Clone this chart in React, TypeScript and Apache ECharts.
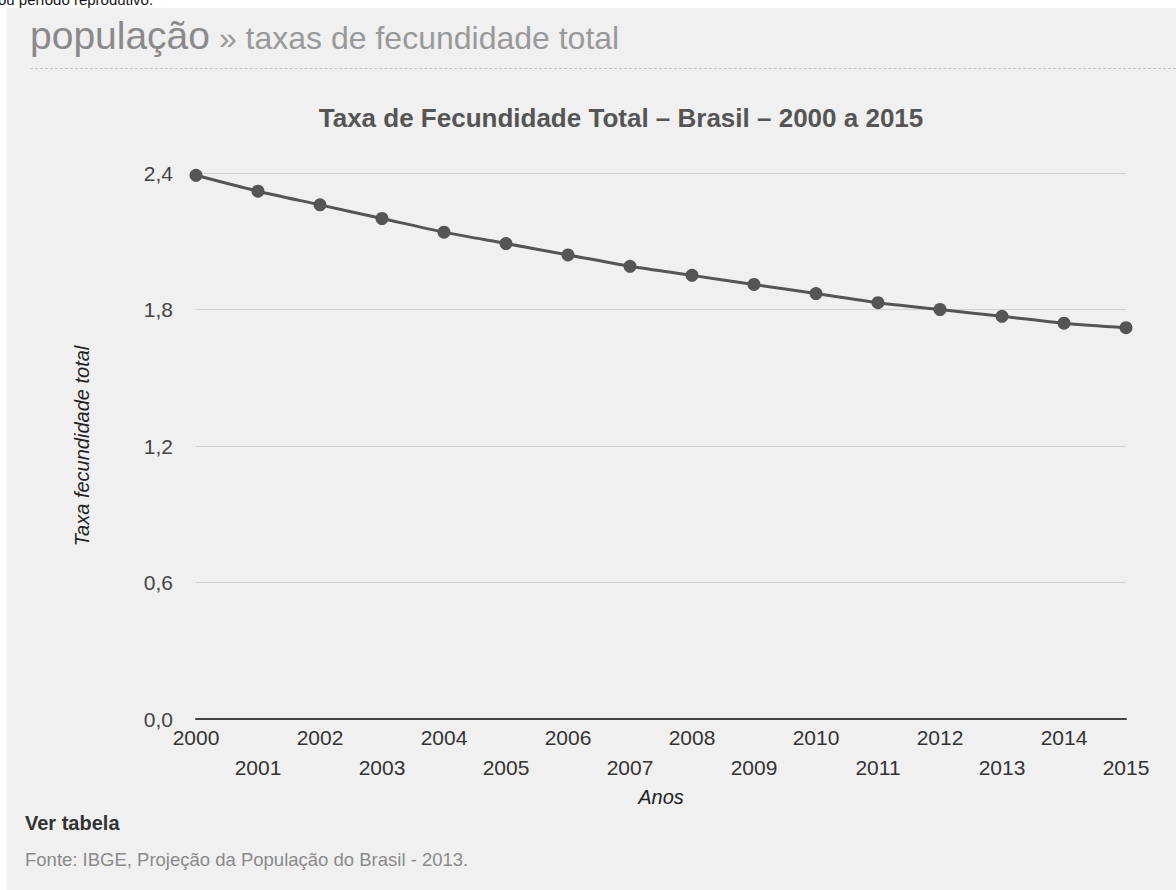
import React, { useEffect, useRef } from "react";
import * as echarts from "echarts";

const years: string[] = [
  "2000", "2001", "2002", "2003", "2004", "2005", "2006", "2007",
  "2008", "2009", "2010", "2011", "2012", "2013", "2014", "2015",
];
const tft: number[] = [
  2.39, 2.32, 2.26, 2.2, 2.14, 2.09, 2.04, 1.99,
  1.95, 1.91, 1.87, 1.83, 1.8, 1.77, 1.74, 1.72,
];
const yMin = 0;
const yMax = 2.4;
const yStep = 0.6;

const chartTitle = "Taxa de Fecundidade Total – Brasil – 2000 a 2015";
const yName = "Taxa fecundidade total";
const xName = "Anos";

const FONT = "'Liberation Sans', Arial, sans-serif";

export default function App() {
  const ref = useRef<HTMLDivElement>(null);

  useEffect(() => {
    if (!ref.current) return;
    const chart = echarts.init(ref.current, null, { renderer: "svg" });
    chart.setOption({
      animation: false,
      backgroundColor: "transparent",
      textStyle: { fontFamily: FONT },
      graphic: [
        {
          type: "text",
          x: 621,
          y: 118,
          style: {
            text: chartTitle,
            fontFamily: FONT,
            fontSize: 26,
            fontWeight: "bold",
            fill: "#555",
            textAlign: "center",
            textVerticalAlign: "middle",
          },
        },
      ],
      grid: { left: 196, right: 50, top: 173, bottom: 171, containLabel: false },
      xAxis: {
        type: "category",
        data: years,
        boundaryGap: false,
        name: xName,
        nameLocation: "middle",
        nameGap: 46,
        nameTextStyle: {
          fontFamily: FONT,
          fontSize: 20,
          fontStyle: "italic",
          color: "#222",
        },
        axisLine: { show: true, lineStyle: { color: "#444", width: 2 } },
        axisTick: { show: false },
        splitLine: { show: false },
        axisLabel: {
          interval: 0,
          hideOverlap: false,
          margin: 3,
          fontFamily: FONT,
          fontSize: 21,
          lineHeight: 30,
          color: "#333",
          formatter: (v: string, i: number) => (i % 2 === 1 ? "\n" + v : v),
        },
      },
      yAxis: {
        type: "value",
        min: yMin,
        max: yMax,
        interval: yStep,
        name: yName,
        nameLocation: "middle",
        nameGap: 104,
        nameRotate: 90,
        nameTextStyle: {
          fontFamily: FONT,
          fontSize: 20,
          fontStyle: "italic",
          color: "#222",
        },
        axisLine: { show: false },
        axisTick: { show: false },
        splitLine: { show: true, lineStyle: { color: "#d2d2d2", width: 1 } },
        axisLabel: {
          margin: 23,
          fontFamily: FONT,
          fontSize: 21,
          color: "#444",
          formatter: (v: number) => v.toFixed(1).replace(".", ","),
        },
      },
      series: [
        {
          type: "line",
          data: tft,
          smooth: 0.3,
          symbol: "circle",
          symbolSize: 13,
          showSymbol: true,
          lineStyle: { color: "#555", width: 3 },
          itemStyle: { color: "#555" },
        },
      ],
    });
    return () => chart.dispose();
  }, []);

  return (
    <div
      style={{
        position: "fixed",
        left: 0,
        top: 0,
        width: 1176,
        height: 890,
        overflow: "hidden",
        background: "#ffffff",
        fontFamily: FONT,
      }}
    >
      <div
        style={{
          position: "absolute",
          left: -2,
          top: -8,
          fontSize: 15,
          lineHeight: "15px",
          color: "#111",
          whiteSpace: "nowrap",
        }}
      >
        ou período reprodutivo.
      </div>
      <div
        style={{
          position: "absolute",
          left: 7,
          top: 8,
          right: 0,
          bottom: 0,
          background: "#f0f0f0",
        }}
      />
      <div
        style={{
          position: "absolute",
          left: 30,
          top: 16,
          whiteSpace: "nowrap",
          lineHeight: "40px",
          color: "#8a8a8a",
        }}
      >
        <span style={{ fontSize: 39 }}>população</span>
        <span style={{ fontSize: 32, color: "#999" }}> » taxas de fecundidade total</span>
      </div>
      <div
        style={{
          position: "absolute",
          left: 30,
          right: 0,
          top: 68,
          borderTop: "1px dashed #c4c4c4",
        }}
      />
      <div
        ref={ref}
        style={{ position: "absolute", left: 0, top: 0, width: 1176, height: 890 }}
      />
      <div
        style={{
          position: "absolute",
          left: 25,
          top: 812,
          fontSize: 20,
          fontWeight: "bold",
          color: "#333",
          whiteSpace: "nowrap",
        }}
      >
        Ver tabela
      </div>
      <div
        style={{
          position: "absolute",
          left: 25,
          top: 849,
          fontSize: 18.5,
          color: "#8a8a8a",
          whiteSpace: "nowrap",
        }}
      >
        Fonte: IBGE, Projeção da População do Brasil - 2013.
      </div>
    </div>
  );
}
